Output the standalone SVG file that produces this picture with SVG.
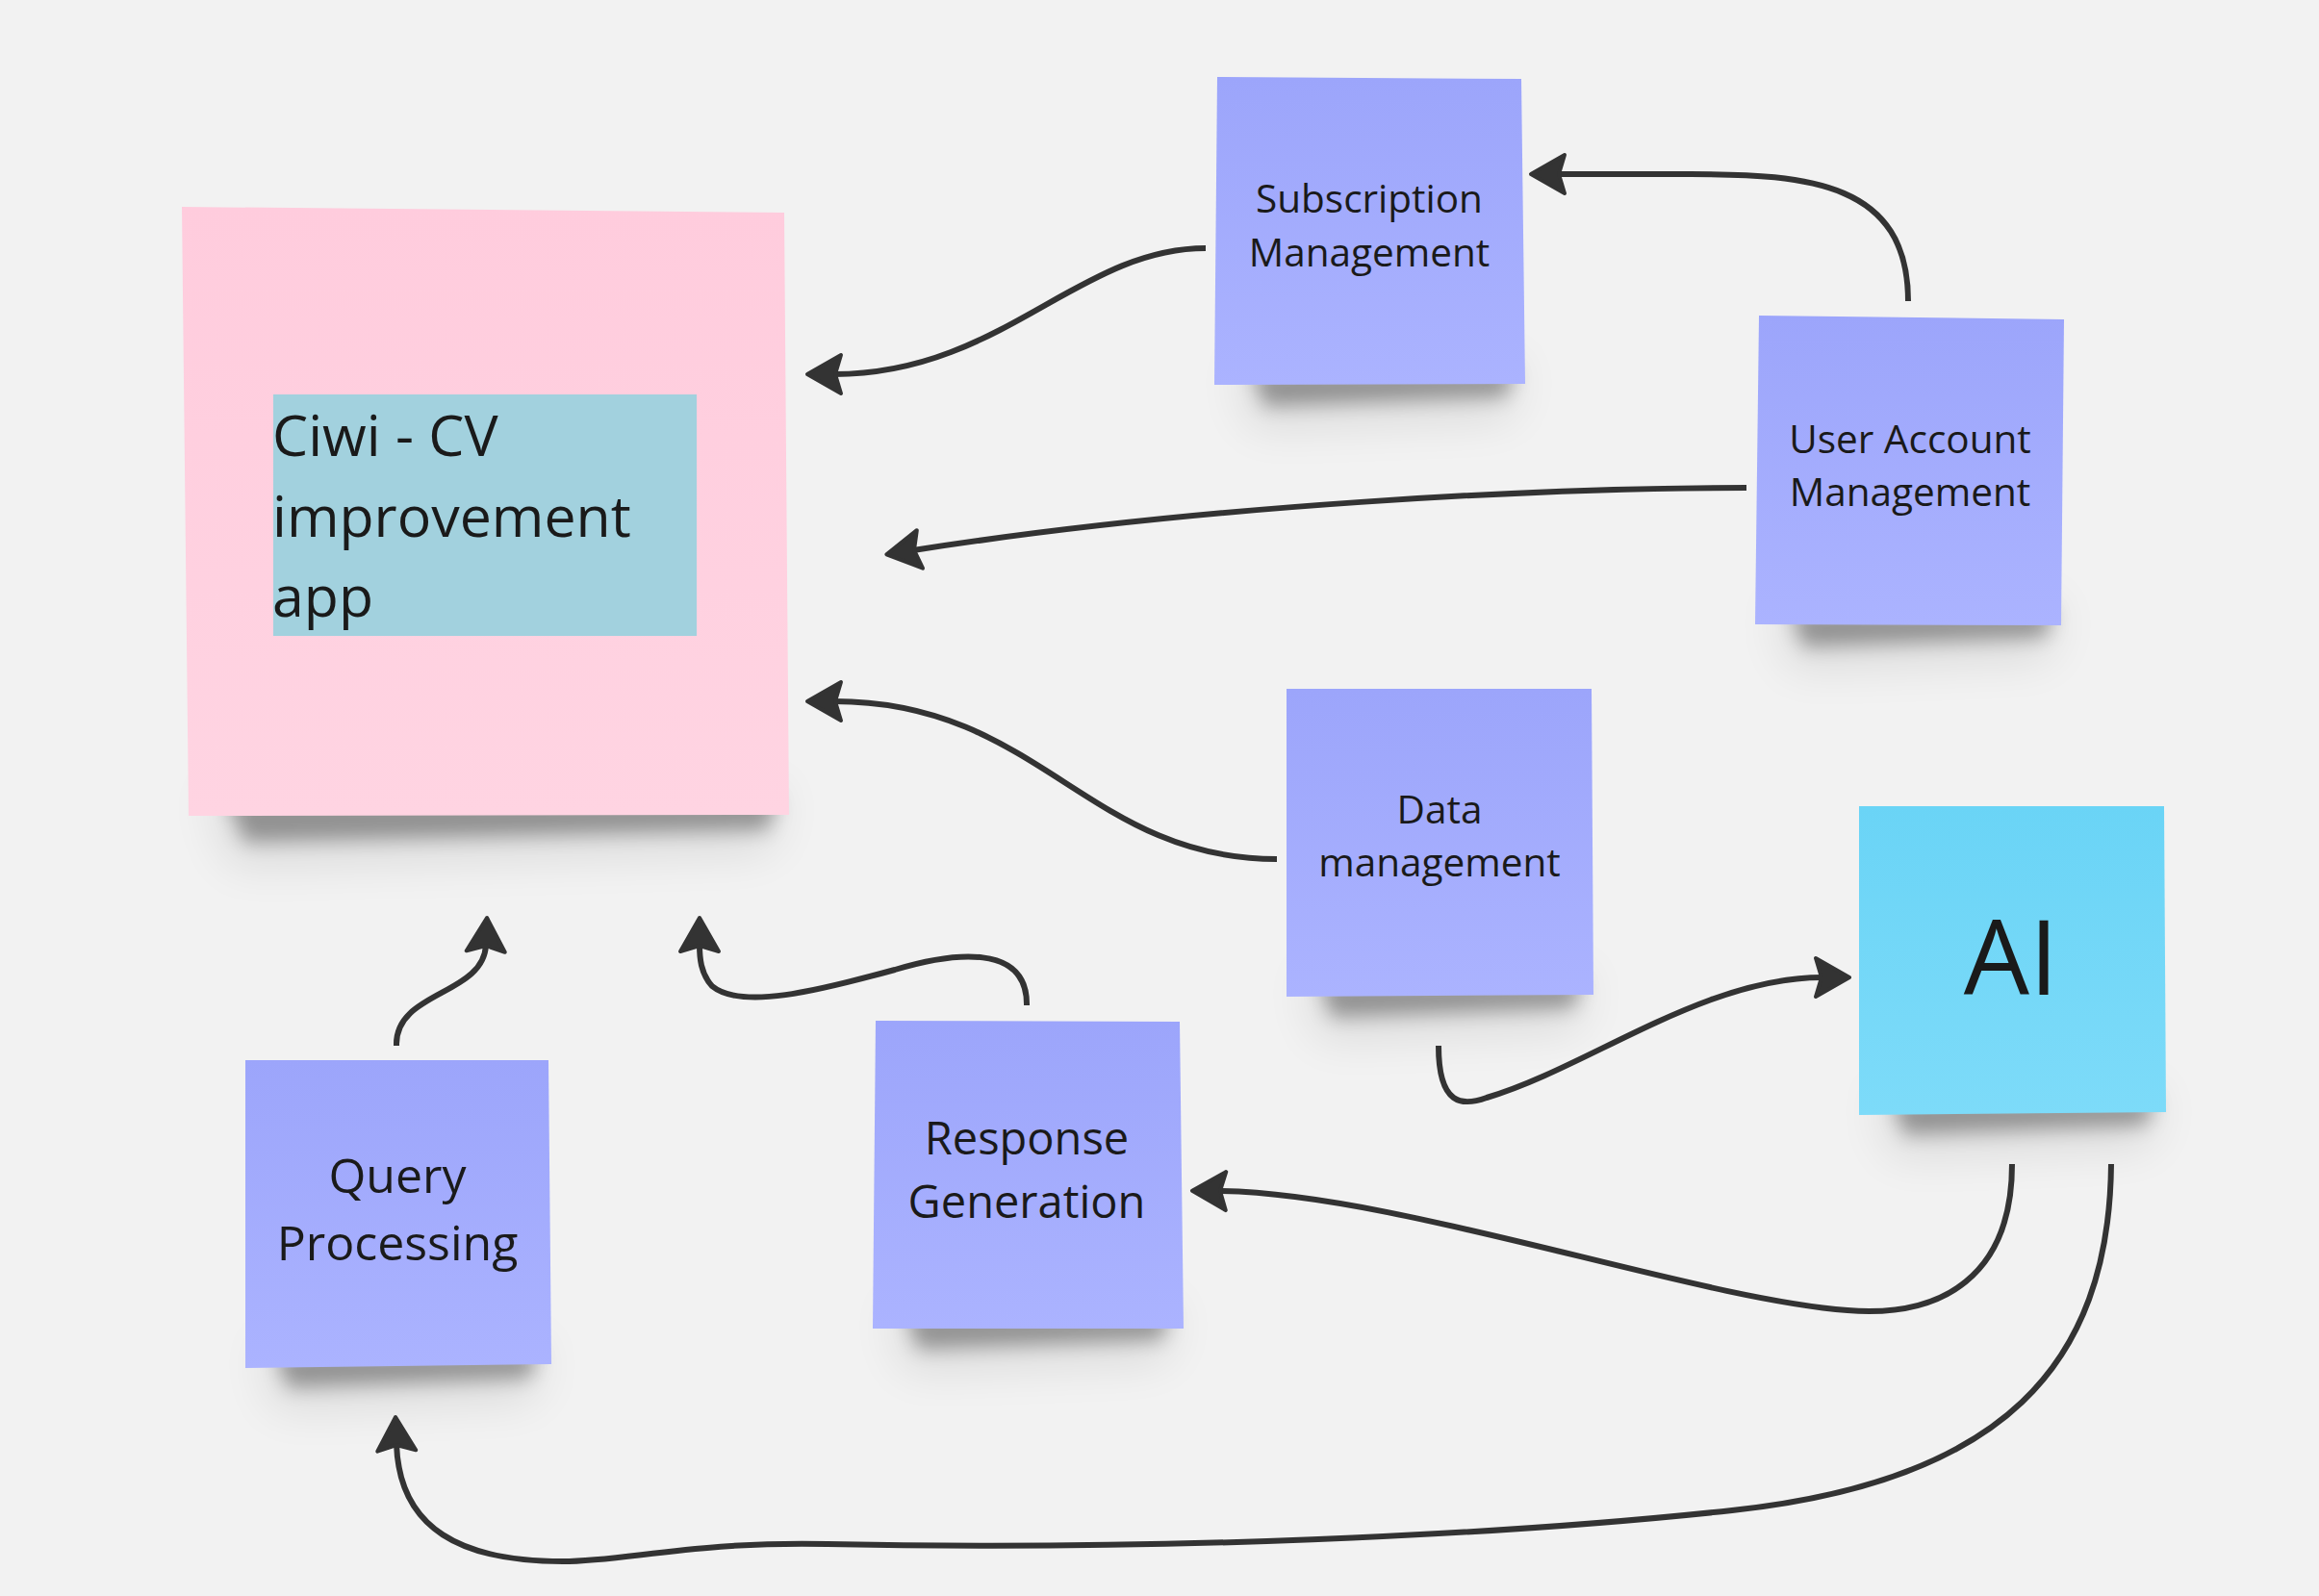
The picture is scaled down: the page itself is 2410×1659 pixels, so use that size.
<svg xmlns="http://www.w3.org/2000/svg" width="2410" height="1659" viewBox="0 0 2410 1659">
<defs>
<style>
.lbl{font-family:"Open Sans","Liberation Sans",sans-serif;fill:#1a1a1a;text-anchor:middle}
.edge{fill:none;stroke:#333;stroke-width:6;stroke-linecap:butt;marker-end:url(#ah)}
.shd{fill:#000;opacity:.34;filter:url(#blur1)}
.shd2{fill:#000;opacity:.09;filter:url(#blur2)}
</style>
<linearGradient id="gPurple" x1="0" y1="0" x2="0" y2="1">
<stop offset="0" stop-color="#9CA5FB"/><stop offset="1" stop-color="#ABB3FF"/>
</linearGradient>
<linearGradient id="gPink" x1="0" y1="0" x2="0" y2="1">
<stop offset="0" stop-color="#FFCCDD"/><stop offset="1" stop-color="#FFD4E2"/>
</linearGradient>
<linearGradient id="gCyan" x1="0" y1="0" x2="0" y2="1">
<stop offset="0" stop-color="#6AD4F6"/><stop offset="1" stop-color="#7DDBF9"/>
</linearGradient>
<filter id="blur1" x="-20%" y="-150%" width="140%" height="400%"><feGaussianBlur stdDeviation="10"/></filter>
<filter id="blur2" x="-30%" y="-200%" width="160%" height="500%"><feGaussianBlur stdDeviation="24"/></filter>
<marker id="ah" markerUnits="userSpaceOnUse" viewBox="0 0 44 48" markerWidth="44" markerHeight="48" refX="12" refY="24" orient="auto">
<path d="M40 24 L5 4 L11 24 L5 44 Z" fill="#333" stroke="#333" stroke-width="4" stroke-linejoin="round"/>
</marker>
</defs>
<rect x="0" y="0" width="2410" height="1659" fill="#F2F2F2"/>

<g id="shadows">
<polygon class="shd2" points="215,820 815,820 800,885 240,900"/>
<polygon class="shd" points="235,830 808,830 798,862 255,875"/>
<polygon class="shd2" points="1285,375 1580,375 1570,435 1300,445"/>
<polygon class="shd" points="1300,385 1575,385 1565,412 1315,422"/>
<polygon class="shd2" points="1845,625 2140,625 2130,685 1860,695"/>
<polygon class="shd" points="1860,635 2135,635 2125,662 1875,672"/>
<polygon class="shd2" points="1355,1010 1650,1010 1640,1070 1370,1080"/>
<polygon class="shd" points="1370,1020 1645,1020 1635,1047 1385,1057"/>
<polygon class="shd2" points="1950,1132 2245,1132 2235,1192 1965,1202"/>
<polygon class="shd" points="1965,1142 2240,1142 2230,1169 1980,1179"/>
<polygon class="shd2" points="270,1395 565,1395 555,1455 285,1465"/>
<polygon class="shd" points="285,1405 560,1405 550,1432 300,1442"/>
<polygon class="shd2" points="925,1355 1222,1355 1212,1415 940,1425"/>
<polygon class="shd" points="940,1365 1217,1365 1207,1392 955,1402"/>
</g>

<g id="node-ciwi">
<polygon points="189,215 815,221 820,847 196,848" fill="url(#gPink)"/>
<rect x="284" y="410" width="440" height="251" fill="#A2D1DE"/>
<text font-family="'Open Sans','Liberation Sans',sans-serif" font-size="59" fill="#1a1a1a">
<tspan x="283" y="474">Ciwi - CV</tspan>
<tspan x="283" y="558">improvement</tspan>
<tspan x="283" y="641">app</tspan>
</text>
</g>

<g id="node-subscription">
<polygon points="1265,80 1581,82 1585,399 1262,400" fill="url(#gPurple)"/>
<text class="lbl" font-size="40.5"><tspan x="1423" y="221">Subscription</tspan><tspan x="1423" y="277">Management</tspan></text>
</g>

<g id="node-user">
<polygon points="1828,328 2145,332 2142,650 1824,649" fill="url(#gPurple)"/>
<text class="lbl" font-size="40.5"><tspan x="1985" y="471">User Account</tspan><tspan x="1985" y="526">Management</tspan></text>
</g>

<g id="node-data">
<polygon points="1337,716 1654,716 1656,1034 1337,1036" fill="url(#gPurple)"/>
<text class="lbl" font-size="40.5"><tspan x="1496" y="856">Data</tspan><tspan x="1496" y="911">management</tspan></text>
</g>

<g id="node-ai">
<polygon points="1932,838 2249,838 2251,1156 1932,1159" fill="url(#gCyan)"/>
<text class="lbl" font-size="108" x="2090" y="1034">AI</text>
</g>

<g id="node-query">
<polygon points="255,1102 570,1102 573,1418 255,1422" fill="url(#gPurple)"/>
<text class="lbl" font-size="50"><tspan x="413" y="1240">Query</tspan><tspan x="413" y="1310">Processing</tspan></text>
</g>

<g id="node-response">
<polygon points="910,1061 1226,1062 1230,1381 907,1381" fill="url(#gPurple)"/>
<text class="lbl" font-size="47"><tspan x="1067" y="1200">Response</tspan><tspan x="1067" y="1266">Generation</tspan></text>
</g>

<g id="connectors">
<path class="edge" d="M1253 258 C1120 258 1040 389 867 389"/>
<path class="edge" d="M1983 313 C1983 190 1880 181 1757 181 L1619 181"/>
<path class="edge" d="M1815 507 C1600 507 1250 525 949 572"/>
<path class="edge" d="M1327 893 C1130 893 1080 729 867 729"/>
<path class="edge" d="M1495 1087 C1495 1150 1520 1150 1545 1141 C1650 1110 1770 1016 1894 1016"/>
<path class="edge" d="M412 1087 C410 1030 503 1035 505 982"/>
<path class="edge" d="M1067 1045 C1068 980 990 990 930 1008 C850 1030 770 1050 740 1025 C728 1012 727 995 727 982"/>
<path class="edge" d="M2091 1210 C2091 1325 2020 1370 1920 1362 C1760 1350 1450 1240 1267 1238"/>
<path class="edge" d="M2194 1210 C2192 1420 2080 1540 1800 1570 C1550 1597 1200 1612 860 1605 C720 1602 650 1623 585 1623 C480 1623 415 1590 412 1501"/>
</g>
</svg>
